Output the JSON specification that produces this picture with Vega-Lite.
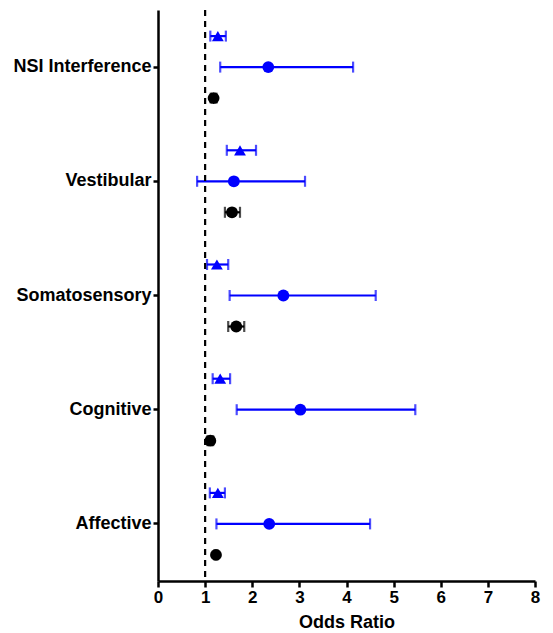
{
  "$schema": "https://vega.github.io/schema/vega-lite/v6.json",
  "width": 377,
  "height": 571,
  "padding": {"left": 12, "top": 8, "right": 12, "bottom": 4},
  "background": "white",
  "config": {
    "view": {"stroke": null},
    "font": "Liberation Sans",
    "axis": {"grid": false, "domainColor": "black", "tickColor": "black", "labelColor": "black", "titleColor": "black", "domainWidth": 2.5, "tickWidth": 2.5, "labelFont": "Liberation Sans", "titleFont": "Liberation Sans", "labelFontWeight": "bold", "titleFontWeight": "bold"}
  },
  "data": {
    "values": [
      {"cat": "NSI Interference", "grp": "A", "or": 1.27, "lo": 1.11, "hi": 1.44},
      {"cat": "NSI Interference", "grp": "B", "or": 2.34, "lo": 1.32, "hi": 4.14},
      {"cat": "NSI Interference", "grp": "C", "or": 1.18, "lo": 1.12, "hi": 1.24},
      {"cat": "Vestibular", "grp": "A", "or": 1.74, "lo": 1.46, "hi": 2.08},
      {"cat": "Vestibular", "grp": "B", "or": 1.61, "lo": 0.83, "hi": 3.12},
      {"cat": "Vestibular", "grp": "C", "or": 1.57, "lo": 1.42, "hi": 1.74},
      {"cat": "Somatosensory", "grp": "A", "or": 1.25, "lo": 1.04, "hi": 1.49},
      {"cat": "Somatosensory", "grp": "B", "or": 2.66, "lo": 1.52, "hi": 4.62},
      {"cat": "Somatosensory", "grp": "C", "or": 1.66, "lo": 1.49, "hi": 1.83},
      {"cat": "Cognitive", "grp": "A", "or": 1.32, "lo": 1.16, "hi": 1.53},
      {"cat": "Cognitive", "grp": "B", "or": 3.02, "lo": 1.67, "hi": 5.46},
      {"cat": "Cognitive", "grp": "C", "or": 1.11, "lo": 1.05, "hi": 1.17},
      {"cat": "Affective", "grp": "A", "or": 1.27, "lo": 1.10, "hi": 1.42},
      {"cat": "Affective", "grp": "B", "or": 2.36, "lo": 1.24, "hi": 4.50},
      {"cat": "Affective", "grp": "C", "or": 1.23, "lo": 1.20, "hi": 1.26}
    ]
  },
  "encoding": {
    "y": {
      "field": "cat", "type": "nominal",
      "sort": ["NSI Interference", "Vestibular", "Somatosensory", "Cognitive", "Affective"],
      "scale": {"paddingInner": 0, "paddingOuter": 0},
      "axis": {"title": null, "labelFontSize": 18, "tickSize": 5, "labelPadding": 2}
    },
    "yOffset": {
      "field": "grp", "type": "nominal",
      "scale": {"paddingInner": 0, "paddingOuter": 0.342}
    },
    "color": {
      "field": "grp", "type": "nominal",
      "scale": {"domain": ["A", "B", "C"], "range": ["#0000ff", "#0000ff", "#000000"]},
      "legend": null
    }
  },
  "layer": [
    {
      "mark": {"type": "rule", "strokeWidth": 2.2},
      "encoding": {
        "x": {
          "field": "lo", "type": "quantitative",
          "scale": {"domain": [0, 8], "nice": false},
          "axis": {"title": "Odds Ratio", "titleFontSize": 18, "labelFontSize": 17, "tickSize": 6, "labelPadding": 2, "titlePadding": 8, "values": [0,1,2,3,4,5,6,7,8], "labelOverlap": false, "labelFlush": false}
        },
        "x2": {"field": "hi"}
      }
    },
    {
      "mark": {"type": "tick", "thickness": 2.2, "size": 11},
      "encoding": {"x": {"field": "lo", "type": "quantitative"}}
    },
    {
      "mark": {"type": "tick", "thickness": 2.2, "size": 11},
      "encoding": {"x": {"field": "hi", "type": "quantitative"}}
    },
    {
      "mark": {"type": "point", "filled": true, "opacity": 1, "size": 140},
      "encoding": {
        "x": {"field": "or", "type": "quantitative"},
        "shape": {"field": "grp", "type": "nominal", "scale": {"domain": ["A", "B", "C"], "range": ["triangle-up", "circle", "circle"]}, "legend": null}
      }
    },
    {
      "data": {"values": [{"ref": 1}]},
      "mark": {"type": "rule", "color": "black", "strokeWidth": 2.2, "strokeDash": [6, 5]},
      "encoding": {"x": {"field": "ref", "type": "quantitative"}, "y": null, "yOffset": null, "color": null}
    }
  ]
}
